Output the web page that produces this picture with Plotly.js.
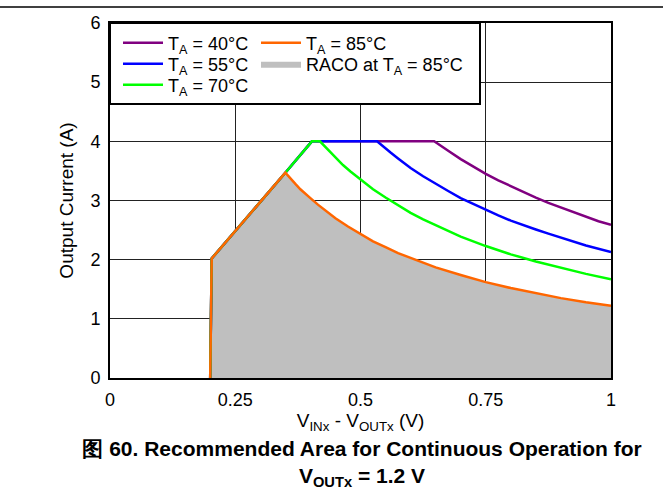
<!DOCTYPE html>
<html>
<head>
<meta charset="utf-8">
<script src="https://cdn.plot.ly/plotly-3.0.1.min.js"></script>
<style>html,body{margin:0;padding:0;background:#fff;}#chart{width:663px;height:496px;}</style>
</head>
<body>
<div id="chart"></div>
<script>
// Data
const x40 = [0.2, 0.203, 0.35, 0.403, 0.647, 0.66, 0.675, 0.7, 0.725, 0.75, 0.775, 0.8, 0.825, 0.85, 0.875, 0.9, 0.925, 0.95, 0.975, 1.0];
const y40 = [0, 2.02, 3.47, 4.0, 4.0, 3.92, 3.84, 3.70, 3.57, 3.45, 3.34, 3.24, 3.14, 3.05, 2.96, 2.88, 2.80, 2.72, 2.65, 2.59];
const x55 = [0.2, 0.203, 0.35, 0.403, 0.533, 0.545, 0.56, 0.575, 0.6, 0.625, 0.65, 0.675, 0.7, 0.725, 0.75, 0.775, 0.8, 0.825, 0.85, 0.875, 0.9, 0.95, 1.0];
const y55 = [0, 2.02, 3.47, 4.0, 4.0, 3.91, 3.81, 3.71, 3.55, 3.41, 3.28, 3.16, 3.04, 2.94, 2.84, 2.75, 2.66, 2.58, 2.51, 2.44, 2.37, 2.24, 2.13];
const x70 = [0.2, 0.203, 0.35, 0.403, 0.419, 0.43, 0.44, 0.45, 0.465, 0.48, 0.5, 0.525, 0.55, 0.575, 0.6, 0.625, 0.65, 0.675, 0.7, 0.75, 0.8, 0.85, 0.9, 0.95, 1.0];
const y70 = [0, 2.02, 3.47, 4.0, 4.0, 3.90, 3.81, 3.72, 3.60, 3.49, 3.35, 3.19, 3.05, 2.92, 2.79, 2.68, 2.58, 2.48, 2.39, 2.23, 2.09, 1.97, 1.86, 1.76, 1.67];
const x85 = [0.2, 0.203, 0.35, 0.36, 0.37, 0.38, 0.39, 0.4, 0.415, 0.43, 0.45, 0.475, 0.5, 0.525, 0.55, 0.575, 0.6, 0.65, 0.7, 0.75, 0.8, 0.85, 0.9, 0.95, 1.0];
const y85 = [0, 2.02, 3.47, 3.37, 3.28, 3.19, 3.11, 3.04, 2.93, 2.83, 2.70, 2.56, 2.43, 2.31, 2.21, 2.11, 2.03, 1.87, 1.74, 1.62, 1.52, 1.43, 1.35, 1.28, 1.22];
const names = ['T<sub>A</sub> = 40°C', 'T<sub>A</sub> = 55°C', 'T<sub>A</sub> = 70°C', 'T<sub>A</sub> = 85°C', 'RACO at T<sub>A</sub> = 85°C'];
const xTicks = [0, 0.25, 0.5, 0.75, 1];
const xTickText = ['0', '0.25', '0.5', '0.75', '1'];
const yTicks = [0, 1, 2, 3, 4, 5, 6];

const font = 'Liberation Sans, Arial, sans-serif';
const lw = 2.5;
const traces = [
  {x: x85, y: y85, name: names[4], mode: 'lines', line: {color: 'rgba(0,0,0,0)', width: 0},
   fill: 'tozeroy', fillcolor: '#BFBFBF', legend: 'legend5'},
  {x: x40, y: y40, name: names[0], mode: 'lines', line: {color: '#800080', width: lw}, legend: 'legend'},
  {x: x55, y: y55, name: names[1], mode: 'lines', line: {color: '#0000FF', width: lw}, legend: 'legend2'},
  {x: x70, y: y70, name: names[2], mode: 'lines', line: {color: '#00FF00', width: lw}, legend: 'legend3'},
  {x: x85, y: y85, name: names[3], mode: 'lines', line: {color: '#FF6600', width: lw}, legend: 'legend4'}
];

function leg(xp, yp) {
  return {x: (xp - 110) / 501, y: (378 - yp) / 355, xanchor: 'left', yanchor: 'middle', xref: 'paper', yref: 'paper',
    bgcolor: 'rgba(0,0,0,0)', borderwidth: 0, font: {family: font, size: 18, color: '#000'}, itemwidth: 40};
}

const layout = {
  width: 663, height: 496,
  margin: {l: 110, r: 52, t: 23, b: 118},
  paper_bgcolor: '#fff', plot_bgcolor: '#fff',
  font: {family: font, size: 18, color: '#000'},
  showlegend: true,
  title: {
    text: '<b>图 60. Recommended Area for Continuous Operation for<br>V<sub>OUTx</sub> = 1.2 V</b>',
    font: {family: font, size: 21, color: '#000'},
    xref: 'container', x: 362 / 663, xanchor: 'center',
    yref: 'container', y: 1 - 455.5 / 496, yanchor: 'middle'
  },
  xaxis: {
    range: [0, 1], tickvals: xTicks, ticktext: xTickText,
    showgrid: true, gridcolor: '#222', gridwidth: 1,
    zeroline: false, showline: true, linecolor: '#000', linewidth: 2, mirror: true,
    ticks: '', tickfont: {family: font, size: 18}, ticklabelstandoff: 4,
    title: {text: 'V<sub>INx</sub> - V<sub>OUTx</sub> (V)', font: {family: font, size: 19}, standoff: 4},
    fixedrange: true
  },
  yaxis: {
    range: [0, 6], tickvals: yTicks,
    showgrid: true, gridcolor: '#222', gridwidth: 1,
    zeroline: false, showline: true, linecolor: '#000', linewidth: 2, mirror: true,
    ticks: '', tickfont: {family: font, size: 18}, ticklabelstandoff: 4,
    title: {text: 'Output Current (A)', font: {family: font, size: 19}, standoff: 12},
    fixedrange: true
  },
  legend: leg(118, 43),
  legend2: leg(118, 64),
  legend3: leg(118, 85),
  legend4: leg(256, 43),
  legend5: leg(256, 64),
  shapes: [
    {type: 'rect', xref: 'paper', yref: 'paper', x0: 0, x1: (480 - 110) / 501, y0: (378 - 104) / 355, y1: 1,
     fillcolor: '#fff', line: {color: '#000', width: 2}, layer: 'above'},
    {type: 'line', xref: 'paper', yref: 'paper', x0: -110 / 501, x1: 1 + 52 / 501, y0: (378 - 7) / 355, y1: (378 - 7) / 355,
     line: {color: '#000', width: 1.5}}
  ]
};

Plotly.newPlot('chart', traces, layout, {displayModeBar: false, staticPlot: true});
</script>
</body>
</html>
